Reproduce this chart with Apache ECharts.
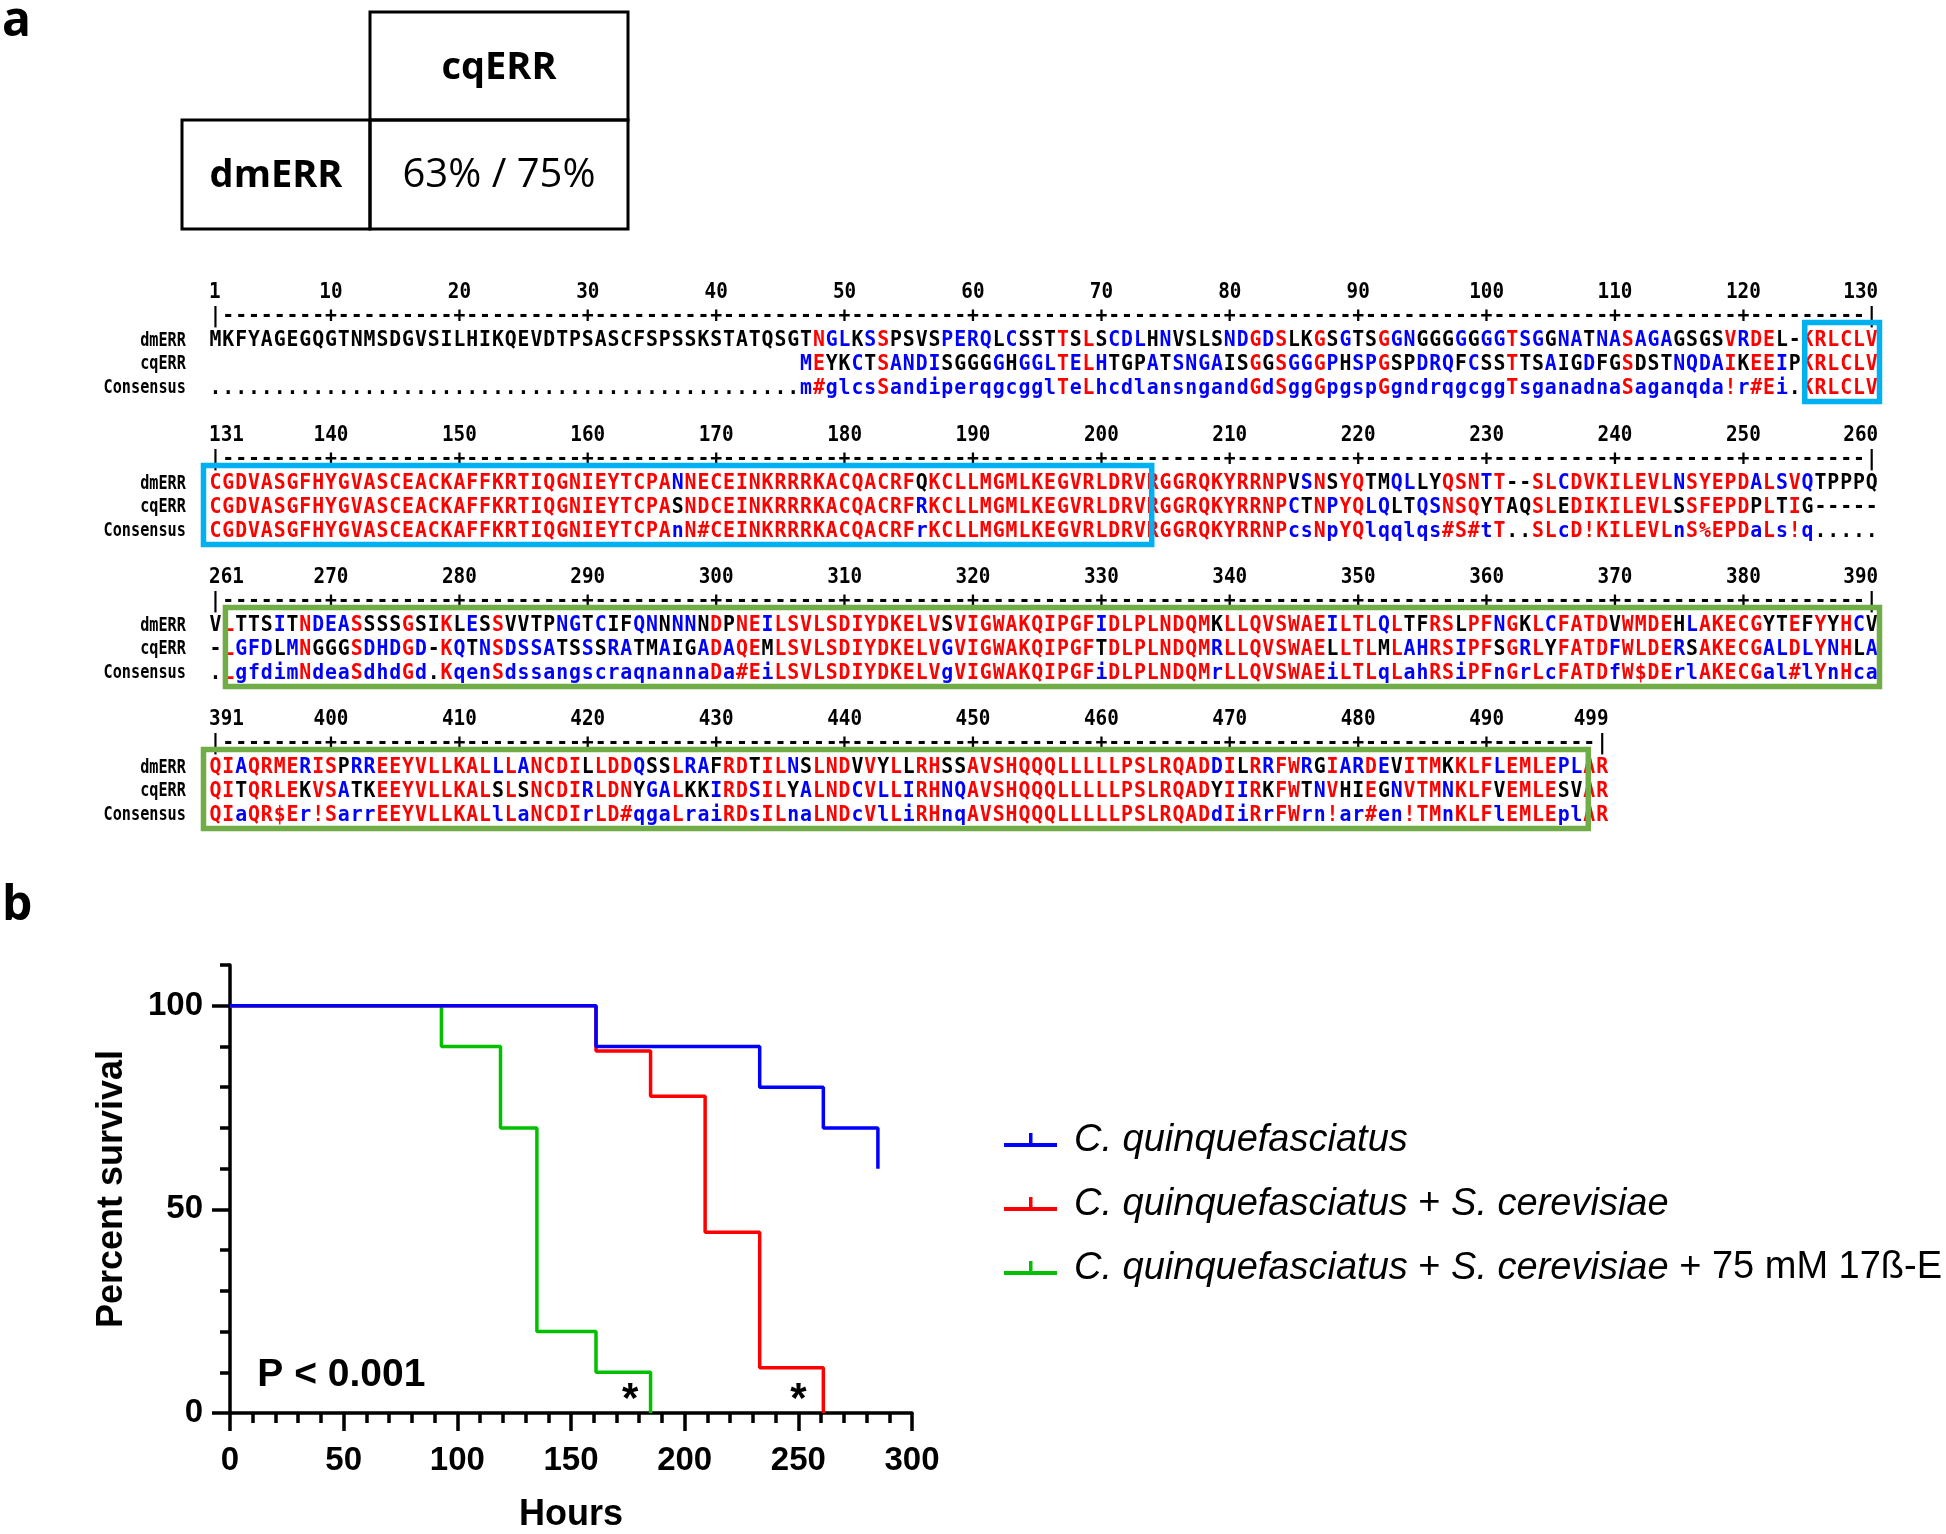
<!DOCTYPE html>
<html><head><meta charset="utf-8"><title>ERR alignment and survival</title>
<script src="https://cdn.jsdelivr.net/npm/echarts@6.0.0/dist/echarts.min.js"></script>
<style>html,body{margin:0;padding:0;background:#fff;}#chart{width:1946px;height:1534px;}</style>
</head><body><div id="chart"></div>
<script>
// ================= DATA =================
const panelLabels = ['a', 'b'];
const identityColHeader = 'cqERR';
const identityRowHeader = 'dmERR';
const identityValue = '63% / 75%';

const seqNames = ['dmERR', 'cqERR', 'Consensus'];
const blockStarts = [1, 131, 261, 391];

const dmERR = [
  ['MKFYAGEGQG','TNMSDGVSIL','HIKQEVDTPS','ASCFSPSSKS','TATQSGTNGL','KSSPSVSPER','QLCSSTTSLS','CDLHNVSLSN','DGDSLKGSGT','SGGNGGGGGG','GTSGGNATNA','SAGAGSGSVR','DEL-KRLCLV'].join(''),
  ['CGDVASGFHY','GVASCEACKA','FFKRTIQGNI','EYTCPANNEC','EINKRRRKAC','QACRFQKCLL','MGMLKEGVRL','DRVRGGRQKY','RRNPVSNSYQ','TMQLLYQSNT','T--SLCDVKI','LEVLNSYEPD','ALSVQTPPPQ'].join(''),
  ['VLTTSITNDE','ASSSSGSIKL','ESSVVTPNGT','CIFQNNNNND','PNEILSVLSD','IYDKELVSVI','GWAKQIPGFI','DLPLNDQMKL','LQVSWAEILT','LQLTFRSLPF','NGKLCFATDV','WMDEHLAKEC','GYTEFYYHCV'].join(''),
  ['QIAQRMERIS','PRREEYVLLK','ALLLANCDIL','LDDQSSLRAF','RDTILNSLND','VVYLLRHSSA','VSHQQQLLLL','LPSLRQADDI','LRRFWRGIAR','DEVITMKKLF','LEMLEPLAR'].join('')
];
const cqERR = [
  ' '.repeat(46) + ['MEYK','CTSANDISGG','GGHGGLTELH','TGPATSNGAI','SGGSGGGPHS','PGSPDRQFCS','STTSAIGDFG','SDSTNQDAIK','EEIPKRLCLV'].join(''),
  ['CGDVASGFHY','GVASCEACKA','FFKRTIQGNI','EYTCPASNDC','EINKRRRKAC','QACRFRKCLL','MGMLKEGVRL','DRVRGGRQKY','RRNPCTNPYQ','LQLTQSNSQY','TAQSLEDIKI','LEVLSSFEPD','PLTIG-----'].join(''),
  ['-LGFDLMNGG','GSDHDGD-KQ','TNSDSSATSS','SRATMAIGAD','AQEMLSVLSD','IYDKELVGVI','GWAKQIPGFT','DLPLNDQMRL','LQVSWAELLT','LMLAHRSIPF','SGRLYFATDF','WLDERSAKEC','GALDLYNHLA'].join(''),
  ['QITQRLEKVS','ATKEEYVLLK','ALSLSNCDIR','LDNYGALKKI','RDSILYALND','CVLLIRHNQA','VSHQQQLLLL','LPSLRQADYI','IRKFWTNVHI','EGNVTMNKLF','VEMLESVAR'].join('')
];
const consensus = [
  '.'.repeat(46) + ['m#gl','csSandiper','qgcgglTeLh','cdlansngan','dGdSggGpgs','pGgndrqgcg','gTsganadna','Saganqda!r','#Ei.KRLCLV'].join(''),
  ['CGDVASGFHY','GVASCEACKA','FFKRTIQGNI','EYTCPAnN#C','EINKRRRKAC','QACRFrKCLL','MGMLKEGVRL','DRVRGGRQKY','RRNPcsNpYQ','lqqlqs#S#t','T..SLcD!KI','LEVLnS%EPD','aLs!q.....'].join(''),
  ['.LgfdimNde','aSdhdGd.Kq','enSdssangs','craqnannaD','a#EiLSVLSD','IYDKELVgVI','GWAKQIPGFi','DLPLNDQMrL','LQVSWAEiLT','LqLahRSiPF','nGrLcFATDf','W$DErlAKEC','Gal#lYnHca'].join(''),
  ['QIaQR$Er!S','arrEEYVLLK','ALlLaNCDIr','LD#qgaLrai','RDsILnaLND','cVlLiRHnqA','VSHQQQLLLL','LPSLRQADdI','iRrFWrn!ar','#en!TMnKLF','lEMLEplAR'].join('')
];
const dbdRegion = [125, 204];   // blue box
const lbdRegion = [262, 498];   // green box

// Survival (Kaplan-Meier) data: event times (hours) and percent survival after each event
const seriesNames = [
  'C. quinquefasciatus',
  'C. quinquefasciatus + S. cerevisiae',
  'C. quinquefasciatus + S. cerevisiae + 75 mM 17ß-E'
];
const hoursCq     = [0, 161, 233, 261, 285];
const survCq      = [100, 90, 80, 70, 60];
const hoursCqSc   = [0, 161, 185, 209, 233, 261];
const survCqSc    = [100, 88.9, 77.8, 44.4, 11.1, 0];
const hoursCqScE  = [0, 93, 119, 135, 161, 185];
const survCqScE   = [100, 90, 70, 20, 10, 0];
const yMajorTicks = [0, 50, 100];
const pValueText = 'P < 0.001';
const pValuePos = [12, 9.2];
const sigMarkPos = [[176, 3.2], [250, 3.2]];

// ================= STYLE =================
const RED = '#ff0000', BLUE = '#0000ff', BLK = '#000000';
const DBD_COLOR = '#00b0f0', LBD_COLOR = '#70ad47';
const C_BLUE = '#0000ff', C_RED = '#ff0000', C_GREEN = '#00c000';
const FONT_SEQ = 'bold 22px "DejaVu Sans Mono", monospace';
const FONT_NUM = 'bold 21px "DejaVu Sans Mono", monospace';
const FONT_NAME = 'bold 20px "DejaVu Sans Mono", monospace';
const SX_SEQ = 0.9, SX_NUM = 0.92, SX_NAME = 0.76;
const SANS = 'Liberation Sans';
const blockTops = [281, 424, 566, 708];
const gridLeft = 209, colW = 12.84, rowH = 23.75, nCols = 130;

function consColor(ch) {
  if (ch === '.') return BLK;
  if (/[a-z]/.test(ch)) return BLUE;
  return RED;
}
function seqColor(ch, cc) {
  if (ch === '-' || cc === '.') return BLK;
  if (/[a-z]/.test(cc)) return ch === cc.toUpperCase() ? BLUE : BLK;
  return RED;
}
function tickCols(start, end) {
  const t = [start];
  for (let c = Math.ceil((start + 1) / 10) * 10; c < end; c += 10) t.push(c);
  t.push(end);
  return t;
}
function blockItems(b) {
  const start = blockStarts[b];
  const rows = [dmERR[b], cqERR[b], consensus[b]];
  const len = rows[0].length, end = start + len - 1;
  const items = [];
  const ticks = tickCols(start, end);
  ticks.forEach((t, i) => {
    const rel = t - start + 1;
    let x = rel, a = 'center';
    if (i === 0) { x = rel - 0.5; a = 'left'; }
    else if (i === ticks.length - 1) { x = rel + 0.5; a = 'right'; }
    items.push({x: x, y: 0, t: String(t), c: BLK, f: FONT_NUM, a: a, s: SX_NUM});
  });
  for (let k = 0; k < len; k++) {
    const col = start + k;
    const ch = (col === start || col === end) ? '|' : (col % 10 === 0 ? '+' : '-');
    items.push({x: k + 1, y: 1, t: ch, c: BLK, f: FONT_SEQ, s: SX_SEQ});
  }
  for (let r = 0; r < 3; r++) {
    const s = rows[r];
    for (let k = 0; k < len; k++) {
      const ch = s[k];
      if (ch === ' ' || ch === undefined) continue;
      const cc = rows[2][k];
      items.push({x: k + 1, y: r + 2, t: ch, c: r === 2 ? consColor(ch) : seqColor(ch, cc), f: FONT_SEQ, s: SX_SEQ});
    }
    items.push({x: -1.3, y: r + 2, t: seqNames[r], c: BLK, f: FONT_NAME, a: 'right', s: SX_NAME});
  }
  return items;
}
function blockBoxes(b) {
  const start = blockStarts[b], end = start + dmERR[b].length - 1;
  const out = [];
  [[dbdRegion, DBD_COLOR], [lbdRegion, LBD_COLOR]].forEach(function (p) {
    const reg = p[0];
    if (Math.max(reg[0], start) > Math.min(reg[1], end)) return;
    const x0 = reg[0] >= start ? (reg[0] - start + 1) - 0.22 : 0.07;
    const x1 = reg[1] <= end ? (reg[1] - start + 1) - 0.08 : 130.6;
    out.push({x0: x0, x1: x1, y0: 1.25, y1: 4.57, color: p[1]});
  });
  return out;
}
function zip(a, b) { return a.map((v, i) => [v, b[i]]); }

// ================= OPTION =================
const grids = [], xAxes = [], yAxes = [], series = [];
for (let b = 0; b < 4; b++) {
  grids.push({left: gridLeft, top: blockTops[b], width: colW * nCols, height: rowH * 5});
  xAxes.push({gridIndex: b, type: 'value', min: 0.5, max: 130.5, show: false});
  yAxes.push({gridIndex: b, type: 'value', min: -0.5, max: 4.5, inverse: true, show: false});
  const items = blockItems(b);
  series.push({
    type: 'custom', xAxisIndex: b, yAxisIndex: b, clip: false, silent: true,
    data: items.map(it => [it.x, it.y]),
    renderItem: function (params, api) {
      const it = items[params.dataIndex];
      const p = api.coord([api.value(0), api.value(1)]);
      return {type: 'text', x: p[0], y: p[1], scaleX: it.s || 1,
        style: {text: it.t, fill: it.c, font: it.f, align: it.a || 'center', verticalAlign: 'middle'}};
    }
  });
  const boxes = blockBoxes(b);
  series.push({
    type: 'custom', xAxisIndex: b, yAxisIndex: b, clip: false, silent: true, z: 5,
    data: boxes.map(bx => [bx.x0, bx.y0, bx.x1, bx.y1]),
    renderItem: function (params, api) {
      const bx = boxes[params.dataIndex];
      const p0 = api.coord([api.value(0), api.value(1)]);
      const p1 = api.coord([api.value(2), api.value(3)]);
      return {type: 'rect', shape: {x: p0[0], y: p0[1], width: p1[0] - p0[0], height: p1[1] - p0[1]},
        style: {fill: 'none', stroke: bx.color, lineWidth: 5.5}};
    }
  });
}
// survival grid
grids.push({left: 230, top: 965, width: 682, height: 453.5});
const axisLineStyle = {color: '#000', width: 3.5};
xAxes.push({
  gridIndex: 4, type: 'value', min: 0, max: 300, interval: 50,
  axisLine: {show: true, onZero: false, lineStyle: axisLineStyle},
  axisTick: {show: true, length: 18, lineStyle: axisLineStyle},
  minorTick: {show: true, splitNumber: 5, length: 10, lineStyle: axisLineStyle},
  splitLine: {show: false}, minorSplitLine: {show: false},
  axisLabel: {color: '#000', fontFamily: SANS, fontWeight: 'bold', fontSize: 33, margin: 31},
  name: 'Hours', nameLocation: 'middle', nameGap: 84,
  nameTextStyle: {color: '#000', fontFamily: SANS, fontWeight: 'bold', fontSize: 36}
});
yAxes.push({
  gridIndex: 4, type: 'value', min: 0, max: 110, interval: 10,
  axisLine: {show: true, onZero: false, lineStyle: axisLineStyle},
  axisTick: {show: true, length: 10, lineStyle: axisLineStyle},
  axisLabel: {show: false}, splitLine: {show: false},
  name: 'Percent survival', nameLocation: 'middle', nameGap: 100,
  nameTextStyle: {color: '#000', fontFamily: SANS, fontWeight: 'bold', fontSize: 36}
});
yAxes.push({
  gridIndex: 4, type: 'value', min: 0, max: 110, interval: 10, position: 'left', offset: 0,
  axisLine: {show: false},
  axisTick: {show: true, length: 18, customValues: yMajorTicks, lineStyle: axisLineStyle},
  axisLabel: {show: true, customValues: yMajorTicks, margin: 27, color: '#000', fontFamily: SANS, fontWeight: 'bold', fontSize: 33},
  splitLine: {show: false}
});
const lineCommon = {type: 'line', xAxisIndex: 4, yAxisIndex: 4, step: 'end', symbol: 'none', showSymbol: false, silent: true};
series.push(Object.assign({}, lineCommon, {name: seriesNames[2], data: zip(hoursCqScE, survCqScE), lineStyle: {color: C_GREEN, width: 3.5}, itemStyle: {color: C_GREEN}}));
series.push(Object.assign({}, lineCommon, {name: seriesNames[1], data: zip(hoursCqSc, survCqSc), lineStyle: {color: C_RED, width: 3.5}, itemStyle: {color: C_RED}}));
series.push(Object.assign({}, lineCommon, {name: seriesNames[0], data: zip(hoursCq, survCq), lineStyle: {color: C_BLUE, width: 3.5}, itemStyle: {color: C_BLUE}}));
series.push({
  type: 'scatter', name: 'sig', xAxisIndex: 4, yAxisIndex: 4, symbolSize: 1, silent: true,
  itemStyle: {color: 'rgba(0,0,0,0)', opacity: 1},
  data: sigMarkPos,
  label: {show: true, position: 'inside', formatter: '*', color: '#000', opacity: 1, fontFamily: SANS, fontWeight: 'bold', fontSize: 42}
});
series.push({
  type: 'scatter', name: 'pval', xAxisIndex: 4, yAxisIndex: 4, symbolSize: 1, silent: true,
  itemStyle: {color: 'rgba(0,0,0,0)', opacity: 1},
  data: [pValuePos],
  label: {show: true, position: 'inside', align: 'left', formatter: pValueText, color: '#000', opacity: 1, fontFamily: SANS, fontWeight: 'bold', fontSize: 39}
});

const tableLine = {fill: 'none', stroke: '#000', lineWidth: 3};
const option = {
  animation: false,
  backgroundColor: '#fff',
  grid: grids, xAxis: xAxes, yAxis: yAxes, series: series,
  legend: {
    data: seriesNames, orient: 'vertical', left: 999, top: 1116,
    itemWidth: 53, itemHeight: 14, itemGap: 26, selectedMode: false,
    icon: 'path://M0,10h53v4h-53z M25,0h3.5v10h-3.5z',
    formatter: function (name) {
      return name.replace('C. quinquefasciatus', '{i|C. quinquefasciatus}').replace('S. cerevisiae', '{i|S. cerevisiae}');
    },
    textStyle: {color: '#000', fontFamily: SANS, fontSize: 38, padding: [0, 0, 0, 12],
      rich: {i: {fontStyle: 'italic', fontFamily: SANS, fontSize: 38, color: '#000'}}}
  },
  graphic: [
    {type: 'text', x: 2, y: 22, style: {text: panelLabels[0], font: 'bold 48px "Open Sans"', fill: '#000', verticalAlign: 'middle'}},
    {type: 'text', x: 2, y: 906, style: {text: panelLabels[1], font: 'bold 48px "Open Sans"', fill: '#000', verticalAlign: 'middle'}},
    {type: 'rect', shape: {x: 370, y: 12, width: 258, height: 108}, style: tableLine},
    {type: 'rect', shape: {x: 182, y: 120, width: 188, height: 109}, style: tableLine},
    {type: 'rect', shape: {x: 370, y: 120, width: 258, height: 109}, style: tableLine},
    {type: 'text', x: 499, y: 68, style: {text: identityColHeader, font: 'bold 38px "Open Sans"', fill: '#000', align: 'center', verticalAlign: 'middle'}},
    {type: 'text', x: 276, y: 176, style: {text: identityRowHeader, font: 'bold 38px "Open Sans"', fill: '#000', align: 'center', verticalAlign: 'middle'}},
    {type: 'text', x: 499, y: 176, style: {text: identityValue, font: '40px "Open Sans"', fill: '#000', align: 'center', verticalAlign: 'middle'}}
  ]
};
const chart = echarts.init(document.getElementById('chart'), null, {renderer: 'canvas', width: 1946, height: 1534});
chart.setOption(option);
</script></body></html>
